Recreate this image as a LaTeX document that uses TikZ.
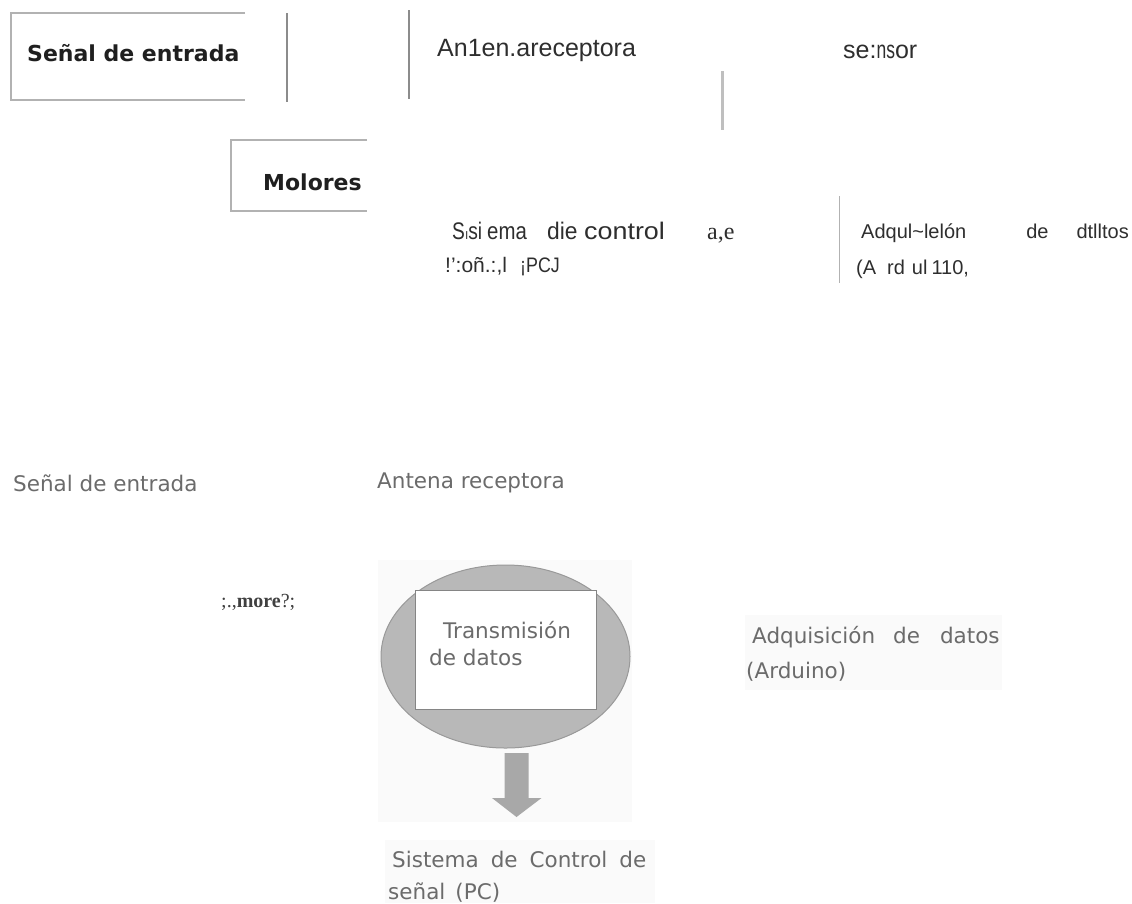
\documentclass[tikz,border=0pt]{standalone}
\usepackage{fontspec}
\setmainfont{Liberation Sans}
\newfontfamily\scanfont{DejaVu Sans}
\newfontfamily\serfont{Liberation Serif}
\usepackage{graphicx}
\usepackage{tikz}
\usetikzlibrary{shapes}

\begin{document}
\begin{tikzpicture}[x=1pt,y=-1pt,
  ocr/.style={anchor=west,inner sep=0pt,text=black!82,font=\fontsize{25}{30}\selectfont},
  ocrline/.style={ocr,font=\fontsize{20}{24}\selectfont},
  scan/.style={anchor=west,inner sep=0pt,text=black!58,font=\scanfont\fontsize{21.5}{26}\selectfont},
  boxed/.style={anchor=west,inner sep=0pt,text=black!88,font=\scanfont\bfseries\fontsize{22}{26}\selectfont},
  rule/.style={black!45,line width=2pt},
  frame/.style={black!30,line width=1.2pt}]
\useasboundingbox (0,0) rectangle (1132,903);
% fondo del escaneo
\fill[black!2] (378,560) rectangle (632,822);
\fill[black!2] (745,615) rectangle (1002,690);
\fill[black!2] (385,840) rectangle (655,903);
% parte superior
\draw[frame] (245,13) -- (11,13) -- (11,100) -- (245,100);
\node[boxed] (senal) at (27,53) {Señal de entrada};
\draw[rule] (287,13) -- (287,102);
\draw[rule] (409,10) -- (409,99);
\node[ocr] (antena) at (437,50) {An1en.areceptora};
\node[ocr] (sensor) at (843,52) {se:\scalebox{0.7}[1]{ns}or};
\draw[black!25,line width=3pt] (722,71) -- (722,130);
\draw[frame] (367,140) -- (231,140) -- (231,211) -- (367,211);
\node[boxed] (motores) at (263,182) {Molores};
\node[ocr,font=\fontsize{24}{28}\selectfont] (sistema) at (452,233) {\makebox[35pt][l]{\scalebox{0.8}[1]{S{\fontsize{15}{15}\selectfont ı}si}}\makebox[60pt][l]{\scalebox{0.85}[1]{ema}}\makebox[37pt][l]{\scalebox{0.95}[1]{die}}\makebox[123pt][l]{\scalebox{1.12}[1]{control}}{\serfont a,e}};
\node[ocr,font=\fontsize{21}{24}\selectfont] (senalpc) at (445,267) {\makebox[75pt][l]{!':oñ.:,l}\scalebox{0.85}[1]{¡PCJ}};
\draw[black!30,line width=1pt] (839,196) -- (839,283);
\node[ocrline] (adq) at (861,233) {Adqul\textasciitilde lelón\hspace{60pt}de\hspace{28pt}dtlltos};
\node[ocrline] (arduino) at (856,269) {(A\hspace{11pt}rd\hspace{7pt}ul\hspace{4pt}110,};
% parte inferior
\node[scan] (senal2) at (13,483) {Señal de entrada};
\node[scan] (antena2) at (377,483) {Antena receptora};
\node[anchor=west,inner sep=0pt,text=black!75,font=\serfont\fontsize{20}{24}\selectfont] (motores2) at (221,602) {;.,\textbf{more}?;};
\node[ellipse,minimum width=249pt,minimum height=183pt,fill=black!28,draw=black!40,line width=1pt] (nodo) at (505.5,656.5) {};
\node[draw=black!48,fill=white,line width=1pt,minimum width=181pt,minimum height=119pt] (trans) at (505.5,649.5) {};
\node[scan] (transtxt) at (443,630) {Transmisión};
\node[scan] (datostxt) at (429,657) {de datos};
\coordinate (flecha) at (516.5,753);
\fill[black!34] (flecha) ++(-12,0) -- ++(24,0) -- ++(0,45) -- ++(13,0) -- (516.5,817) -- ++(-24.5,-19) -- ++(12.5,0) -- cycle;
\node[scan] (adq2) at (752,637) {Adquisición\hspace{18pt}de\hspace{20pt}datos};
\node[scan] (arduino2) at (746,672) {(Arduino)};
\node[scan] (control2) at (392,859) {Sistema\hspace{12pt}de\hspace{12pt}Control\hspace{12pt}de};
\node[scan] (senalpc2) at (388,893) {señal\hspace{10pt}(PC)};
\end{tikzpicture}
\end{document}
